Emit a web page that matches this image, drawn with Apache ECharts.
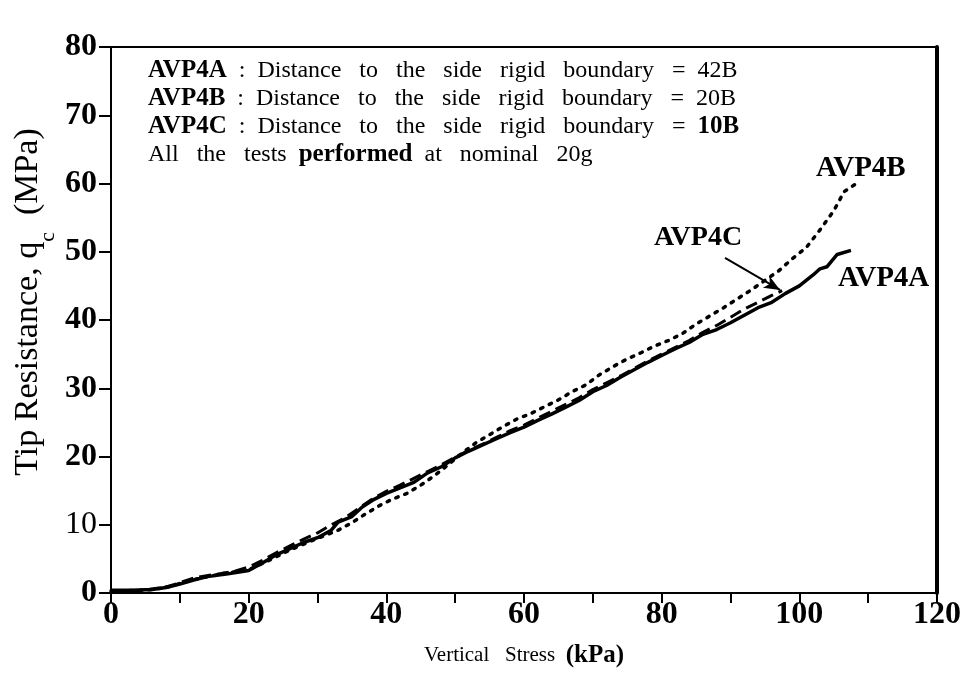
<!DOCTYPE html>
<html>
<head>
<meta charset="utf-8">
<script src="https://cdn.jsdelivr.net/npm/echarts@6/dist/echarts.min.js"></script>
<style>
html,body{margin:0;padding:0;background:#fff;}
#chart{width:965px;height:674px;}
</style>
</head>
<body>
<div id="chart"></div>
<script>
// ---- data (Vertical stress kPa, Tip resistance MPa) ----
var xTicks = [0, 20, 40, 60, 80, 100, 120];
var yTicks = [0, 10, 20, 30, 40, 50, 60, 70, 80];

var avp4A = [[0,0.4],[3,0.4],[6,0.5],[8,0.8],[10,1.3],[12,1.9],[14,2.4],[17,2.8],[20,3.3],[22,4.4],[24,5.6],[26,6.5],[28,7.4],[30,8.1],[32,9.2],[33,10.4],[35,11.2],[36.5,12.6],[38,13.6],[40,14.6],[42,15.4],[44,16.2],[46,17.6],[48,18.5],[50,19.8],[52,20.8],[54,21.7],[56,22.6],[58,23.5],[60,24.3],[62,25.3],[64,26.2],[66,27.2],[68,28.2],[70,29.5],[72,30.4],[74,31.6],[76,32.7],[78,33.8],[80,34.8],[82,35.8],[84,36.7],[86,37.9],[88,38.6],[90,39.6],[92,40.7],[94,41.8],[96,42.6],[98,43.9],[100,45.0],[102,46.6],[103,47.5],[104,47.8],[105.5,49.6],[107.5,50.2]];

var avp4B = [[0,0.3],[5,0.4],[8,0.8],[10,1.4],[13,2.2],[16,2.8],[20,3.4],[23,4.8],[26,6.3],[29,7.6],[31,8.4],[33,9.2],[35,10.3],[37,11.6],[39,12.8],[41,13.8],[43,14.6],[45,15.8],[47,17.2],[49,18.8],[51,20.5],[53,22.0],[55,23.2],[57,24.4],[59,25.5],[61,26.3],[63,27.3],[65,28.3],[67,29.5],[69,30.5],[71,32.0],[73,33.2],[75,34.3],[77,35.2],[79,36.2],[81,37.0],[83,38.0],[85,39.4],[87,40.6],[89,41.8],[91,43.1],[93,44.4],[95,45.8],[97,47.2],[99,49.0],[101,50.6],[103,53.2],[105,56.0],[106.5,58.8],[108.3,60.0]];

var avp4C = [[0,0.3],[4,0.3],[8,0.9],[10,1.5],[12,2.2],[15,2.7],[18,3.2],[20,3.8],[22,4.8],[24,5.9],[26,6.9],[28,7.9],[30,8.8],[32,10.0],[34,11.0],[36,12.4],[38,13.8],[40,14.9],[42,15.8],[44,16.8],[46,17.8],[48,18.8],[50,19.9],[52,20.9],[54,21.8],[56,22.8],[58,23.8],[60,24.6],[62,25.6],[64,26.6],[66,27.6],[68,28.6],[70,29.8],[72,30.8],[74,31.8],[76,32.9],[78,34.0],[80,35.0],[82,36.0],[84,37.0],[86,38.2],[88,39.2],[90,40.4],[92,41.6],[94,42.6],[96,43.6],[97.5,44.3]];

var arrowFrom = [89.2, 49.1];
var arrowTo = [97.2, 44.4];

var SERIF = '"Liberation Serif","DejaVu Serif",serif';

var chart = echarts.init(document.getElementById('chart'), null, {renderer:'canvas'});

var txtRich = {
  b: {fontFamily: SERIF, fontSize: 25, fontWeight: 'bold', fill: '#000'},
  n: {fontFamily: SERIF, fontSize: 24, fill: '#000'}
};

var option = {
  animation: false,
  backgroundColor: '#fff',
  grid: {left: 111, right: 28, top: 47, bottom: 81, show: true, borderColor: '#000', borderWidth: 2, backgroundColor: 'transparent'},
  xAxis: {
    type: 'value', min: 0, max: 120, interval: 10,
    axisLine: {show: true, onZero: false, lineStyle: {color: '#000', width: 2}},
    axisTick: {show: true, inside: false, length: 10, lineStyle: {color: '#000', width: 2}},
    splitLine: {show: false},
    axisLabel: {
      margin: 6, color: '#000', fontFamily: SERIF, fontWeight: 'bold', fontSize: 32,
      formatter: function (v) { return xTicks.indexOf(v) >= 0 ? String(v) : ''; }
    },
    name: '{n|Vertical   Stress  }{b|(kPa)}',
    nameLocation: 'middle', nameGap: 50,
    nameTextStyle: {rich: {n: {fontFamily: SERIF, fontSize: 21, color: '#000'}, b: {fontFamily: SERIF, fontSize: 25, fontWeight: 'bold', color: '#000'}}}
  },
  yAxis: [{
    type: 'value', min: 0, max: 80, interval: 10,
    axisLine: {show: true, onZero: false, lineStyle: {color: '#000', width: 2}},
    axisTick: {show: true, inside: false, length: 12, lineStyle: {color: '#000', width: 2}},
    splitLine: {show: false},
    axisLabel: {
      margin: 14, color: '#000', fontFamily: SERIF, fontSize: 32,
      formatter: function (v) { return v === 10 ? '{r|' + v + '}' : '{b|' + v + '}'; },
      rich: {
        b: {fontFamily: SERIF, fontSize: 32, fontWeight: 'bold', color: '#000'},
        r: {fontFamily: SERIF, fontSize: 32, color: '#000'}
      }
    }
  }, {
    type: 'value', min: 0, max: 80, interval: 10, position: 'right',
    axisLine: {show: true, onZero: false, lineStyle: {color: '#000', width: 4}},
    axisTick: {show: false}, axisLabel: {show: false}, splitLine: {show: false}
  }],
  series: [
    {
      name: 'AVP4A', type: 'line', data: avp4A, showSymbol: false, smooth: false,
      lineStyle: {color: '#000', width: 3.5, type: 'solid'}
    },
    {
      name: 'AVP4C', type: 'line', data: avp4C, showSymbol: false,
      lineStyle: {color: '#000', width: 3, type: [12, 6]},
      markLine: {
        silent: true, symbol: ['none', 'arrow'], symbolSize: [10, 16],
        label: {show: false},
        lineStyle: {color: '#000', width: 2, type: 'solid'},
        data: [[{coord: arrowFrom}, {coord: arrowTo}]]
      }
    },
    {
      name: 'AVP4B', type: 'line', data: avp4B, showSymbol: false,
      lineStyle: {color: '#000', width: 3.5, type: [2.5, 7], cap: 'round'}
    }
  ],
  graphic: [
    {type: 'text', x: 28, y: 302, rotation: Math.PI / 2, style: {
      text: '{n|Tip Resistance, q}{s|c}{n|  (MPa)}',
      align: 'center', verticalAlign: 'middle',
      rich: {
        n: {fontFamily: SERIF, fontSize: 34, fill: '#000'},
        s: {fontFamily: SERIF, fontSize: 22, fill: '#000', verticalAlign: 'bottom', padding: [0, 0, -14, 0]}
      }
    }},
    {type: 'text', left: 148, top: 58, style: {
      text: '{b|AVP4A}{n|  :  Distance   to   the   side   rigid   boundary   =  42B}', rich: txtRich
    }},
    {type: 'text', left: 148, top: 86, style: {
      text: '{b|AVP4B}{n|  :  Distance   to   the   side   rigid   boundary   =  20B}', rich: txtRich
    }},
    {type: 'text', left: 148, top: 114, style: {
      text: '{b|AVP4C}{n|  :  Distance   to   the   side   rigid   boundary   =  }{b|10B}', rich: txtRich
    }},
    {type: 'text', left: 148, top: 142, style: {
      text: '{n|All   the   tests  }{b|performed}{n|  at   nominal   20g}', rich: txtRich
    }},
    {type: 'text', left: 816, top: 154, style: {text: 'AVP4B', fontFamily: SERIF, fontSize: 29, fontWeight: 'bold', fill: '#000'}},
    {type: 'text', left: 654, top: 224, style: {text: 'AVP4C', fontFamily: SERIF, fontSize: 28, fontWeight: 'bold', fill: '#000'}},
    {type: 'text', left: 838, top: 264, style: {text: 'AVP4A', fontFamily: SERIF, fontSize: 29, fontWeight: 'bold', fill: '#000'}}
  ]
};
chart.setOption(option);
</script>
</body>
</html>
